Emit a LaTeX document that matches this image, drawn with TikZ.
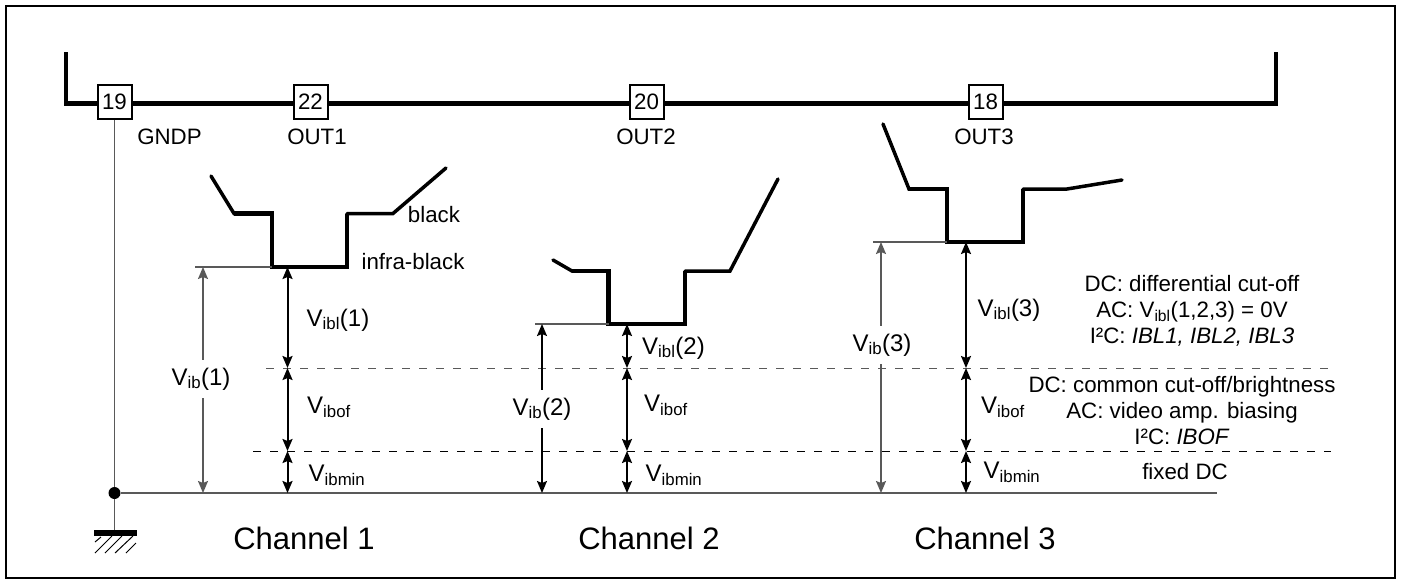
\documentclass[tikz,border=0pt]{standalone}
\usepackage{fontspec}
\setmainfont{Liberation Sans}
\usetikzlibrary{arrows.meta}
\usetikzlibrary{positioning}
\definecolor{mgray}{gray}{0.35}
\newcommand{\vsub}[2]{{\fontsize{24}{26}\selectfont V\textsubscript{#1}#2}}
\tikzset{
  every node/.style={font=\fontsize{22.3}{26}\selectfont, inner sep=0pt},
  pinbox/.style={draw, fill=white, line width=2pt, minimum size=34pt},
  bus/.style={line width=4.5pt},
  wave/.style={line width=4.5pt},
  ramp/.style={line width=3.5pt, line cap=round},
  level/.style={mgray, line width=1.6pt},
  ib/.style={mgray, line width=1.6pt, -{Stealth[length=12pt,width=10pt,inset=2pt]}},
  dim/.style={line width=2pt, {Stealth[length=12pt,width=10pt,inset=2pt]}-{Stealth[length=12pt,width=10pt,inset=2pt]}},
  cut/.style={line width=1pt, dash pattern=on 8pt off 9pt},
  vlab/.style={outer ysep=8pt},
  channel/.style={font=\fontsize{31}{34}\selectfont},
  notes/.style={align=center}
}
\begin{document}
\begin{tikzpicture}[x=1pt, y=-1pt]
    \useasboundingbox (0, 0) rectangle (1401, 579);
    \draw [line width=2pt] (5.5, 5.5) rectangle (1395, 577.5);

    % pins on the top rail
    \node [pinbox] (19) at (114.5, 102) {19};
    \node [pinbox] (22) at (310.5, 102) {22};
    \node [pinbox] (20) at (646.5, 102) {20};
    \node [pinbox] (18) at (985.5, 102) {18};
    \coordinate (railL) at (66, 52);
    \coordinate (railR) at (1276, 52);
    \draw [bus] (railL) |- ([yshift=-1.5pt]19.west);
    \draw [bus] ([yshift=-1.5pt]19.east) -- ([yshift=-1.5pt]22.west);
    \draw [bus] ([yshift=-1.5pt]22.east) -- ([yshift=-1.5pt]20.west);
    \draw [bus] ([yshift=-1.5pt]20.east) -- ([yshift=-1.5pt]18.west);
    \draw [bus] ([yshift=-1.5pt]18.east) -| (railR);

    \node (gndp) at (169.5, 137) {GNDP};
    \node (out1) at (317, 137) {OUT1};
    \node (out2) at (646, 137) {OUT2};
    \node (out3) at (984, 137) {OUT3};

    % ground
    \node [circle, fill=black, minimum size=12pt] (dot) at (114.5, 493) {};
    \coordinate (gnd) at (114.5, 533);
    \coordinate (gndL) at (94, 533);
    \coordinate (gndR) at (137, 533);
    \coordinate (baseR) at (1217, 493);
    \draw [level] (19) -- (dot);
    \draw [line width=1.6pt, mgray] (dot) -- (gnd);
    \draw [line width=1.8pt, mgray] (dot) -- (baseR);
    \draw [line width=5.5pt] (gndL) -- (gndR);
    \draw [line width=1pt] (95, 542) -- (101, 537) (95, 553) -- (112, 536) (105, 553) -- (122, 536) (115, 553) -- (133, 536) (126, 553) -- (136, 543);

    % waveforms
    \draw [ramp] (211, 176) -- (234, 213.5) -- (250, 213.5);
    \draw [wave] (234, 213.5) -- (272, 213.5) -- (272, 267) -- (347, 267) -- (347, 213.5);
    \draw [ramp] (347, 213.5) -- (393, 213.5) -- (446, 168);
    \draw [ramp] (553, 260) -- (572, 271) -- (590, 271);
    \draw [wave] (572, 271) -- (608.5, 271) -- (608.5, 324) -- (685, 324) -- (685, 271);
    \draw [ramp] (685, 271) -- (730, 271) -- (778, 179);
    \draw [ramp] (883, 124) -- (909, 189) -- (925, 189);
    \draw [wave] (909, 189) -- (947, 189) -- (947, 242) -- (1023, 242) -- (1023, 189);
    \draw [ramp] (1023, 189) -- (1067, 189) -- (1122, 180);
    \node (black) at (434, 215) {black};
    \node (infra) at (413, 262) {infra-black};

    \coordinate (lev1) at (272, 267);
    \coordinate (lev2) at (608.5, 324);
    \coordinate (lev3) at (947, 242);
    \coordinate (ref1) at (195, 267);
    \coordinate (ref2) at (535, 324);
    \coordinate (ref3) at (873, 242);
    \draw [level] (ref1) -- (lev1);
    \draw [level] (ref2) -- (lev2);
    \draw [level] (ref3) -- (lev3);

    % cut-off levels
    \coordinate (ibofL) at (266, 368);
    \coordinate (ibofR) at (1331, 368);
    \coordinate (minL) at (253, 451);
    \coordinate (minR) at (1331, 451);
    \draw [cut, mgray] (ibofL) -- (ibofR);
    \draw [cut] (minL) -- (minR);

    % channel 1
    \coordinate (ibT1) at (203, 267);
    \coordinate (ibB1) at (203, 493);
    \coordinate (a1) at (287.5, 267);
    \coordinate (b1) at (287.5, 368);
    \coordinate (c1) at (287.5, 451);
    \coordinate (d1) at (287.5, 493);
    \node [vlab] (vib1) at (201, 379) {\vsub{ib}{(1)}};
    \draw [ib] (vib1.north -| ibT1) -- (ibT1);
    \draw [ib] (vib1.south -| ibB1) -- (ibB1);
    \draw [dim] (a1) -- (b1);
    \draw [dim] (b1) -- (c1);
    \draw [dim] (c1) -- (d1);
    \node (vibl1) at (338, 320) {\vsub{ibl}{(1)}};
    \node (vibof1) at (329, 407) {\vsub{ibof}{}};
    \node (vibmin1) at (337, 475) {\vsub{ibmin}{}};
    \node [channel] (ch1) at (304, 538) {Channel 1};

    % channel 2
    \coordinate (ibT2) at (542, 324);
    \coordinate (ibB2) at (542, 493);
    \coordinate (a2) at (627, 324);
    \coordinate (b2) at (627, 368);
    \coordinate (c2) at (627, 451);
    \coordinate (d2) at (627, 493);
    \node [vlab] (vib2) at (542, 409) {\vsub{ib}{(2)}};
    \draw [ib, black] (vib2.north -| ibT2) -- (ibT2);
    \draw [ib, black] (vib2.south -| ibB2) -- (ibB2);
    \draw [dim] (a2) -- (b2);
    \draw [dim] (b2) -- (c2);
    \draw [dim] (c2) -- (d2);
    \node (vibl2) at (673.5, 348) {\vsub{ibl}{(2)}};
    \node (vibof2) at (666, 405) {\vsub{ibof}{}};
    \node (vibmin2) at (674, 475) {\vsub{ibmin}{}};
    \node [channel] (ch2) at (649, 538) {Channel 2};

    % channel 3
    \coordinate (ibT3) at (881, 242);
    \coordinate (ibB3) at (881, 493);
    \coordinate (a3) at (966, 242);
    \coordinate (b3) at (966, 368);
    \coordinate (c3) at (966, 451);
    \coordinate (d3) at (966, 493);
    \node [vlab] (vib3) at (882, 345) {\vsub{ib}{(3)}};
    \draw [ib] (vib3.north -| ibT3) -- (ibT3);
    \draw [ib] (vib3.south -| ibB3) -- (ibB3);
    \draw [dim] (a3) -- (b3);
    \draw [dim] (b3) -- (c3);
    \draw [dim] (c3) -- (d3);
    \node (vibl3) at (1009, 310) {\vsub{ibl}{(3)}};
    \node (vibof3) at (1003, 407) {\vsub{ibof}{}};
    \node (vibmin3) at (1012, 472) {\vsub{ibmin}{}};
    \node [channel] (ch3) at (985, 538) {Channel 3};

    % notes
    \node [notes] (noteA) at (1192, 311) {DC: differential cut-off\\AC: V\textsubscript{ibl}(1,2,3) = 0V\\I²C: \textit{IBL1, IBL2, IBL3}};
    \node [notes] (noteB) at (1182, 411) {DC: common cut-off/brightness\\AC: video amp. biasing\\I²C: \textit{IBOF}};
    \node (noteC) at (1185, 472) {fixed DC};
  \end{tikzpicture}
\end{document}
